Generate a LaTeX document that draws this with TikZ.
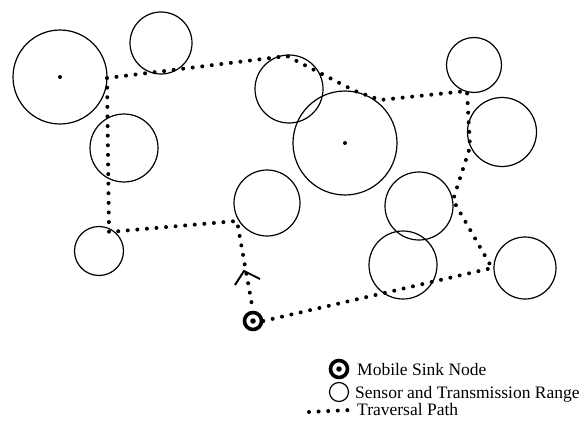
\documentclass[tikz,border=0pt]{standalone}
\usepackage{fontspec}
\setmainfont{Liberation Serif}
\begin{document}
\begin{tikzpicture}[x=1pt,y=-1pt,
  range/.style={circle, draw, line width=1.2pt, inner sep=0pt, minimum size=#1},
  centre/.style={circle, fill, inner sep=0pt, minimum size=4pt},
  sink/.style={circle, draw, line width=3.6pt, inner sep=0pt, minimum size=17pt},
  sinkdot/.style={circle, fill, inner sep=0pt, minimum size=5.5pt},
  tour/.style={line width=4pt, line cap=round, dash pattern=on 0pt off 9.6pt},
  legendtext/.style={anchor=base west, inner sep=0pt, font=\fontsize{17.5}{20}\selectfont}
]
\useasboundingbox (0,0) rectangle (583,420);
\clip (0,0) rectangle (583,420);

% sensor nodes with their transmission ranges
\node[range=94pt]  (c1)  at (60,77)   {};
\node[range=62pt]  (c2)  at (161,43)  {};
\node[range=68pt]  (c3)  at (124,148) {};
\node[range=49pt]  (c4)  at (99,251)  {};
\node[range=68pt]  (c5)  at (289,89)  {};
\node[range=104pt] (c6)  at (345,143) {};
\node[range=66pt]  (c7)  at (267,203) {};
\node[range=55pt]  (c8)  at (474,65)  {};
\node[range=69pt]  (c9)  at (502,132) {};
\node[range=68pt]  (c10) at (419,206) {};
\node[range=68pt]  (c11) at (403,265) {};
\node[range=62pt]  (c12) at (525,268) {};
\node[centre] (d1) at (60,77) {};
\node[centre] (d6) at (345,143) {};

% mobile sink
\node[sink] (s) at (253,321) {};
\node[sinkdot] (sd) at (253,321) {};

% waypoints of the tour
\coordinate (p1) at (492,268);
\coordinate (p2) at (453,200);
\coordinate (p3) at (470,147);
\coordinate (p4) at (467,91);
\coordinate (p5) at (380,100);
\coordinate (p6) at (355,91);
\coordinate (p7) at (287,56);
\coordinate (p8) at (107,78);
\coordinate (p9) at (109,232);
\coordinate (p10) at (237,221);

\draw[tour] (s.east) -- (p1) -- (p2) -- (p3) -- (p4) -- (p5) -- (p6) -- (p7)
  -- (p8) -- (p9) -- (p10) -- (s.north);

% direction mark on the tour
\coordinate (tip) at (244,271);
\coordinate (barbL) at (235,285);
\coordinate (barbR) at (260,279);
\draw[line width=2pt, line join=miter] (barbL) -- (tip) -- (barbR);

% legend
\node[sink] (ls) at (339,369) {};
\node[sinkdot] (lsd) at (339,369) {};
\node[legendtext] (lt1) at (357,375) {Mobile Sink Node};
\node[range=19pt] (lc) at (339,392) {};
\node[legendtext] (lt2) at (355,398) {Sensor and Transmission Range};
\coordinate (la) at (309,412);
\coordinate (lb) at (350,410);
\draw[tour] (la) -- (lb);
\node[legendtext] (lt3) at (357,415.5) {Traversal Path};
\end{tikzpicture}
\end{document}
